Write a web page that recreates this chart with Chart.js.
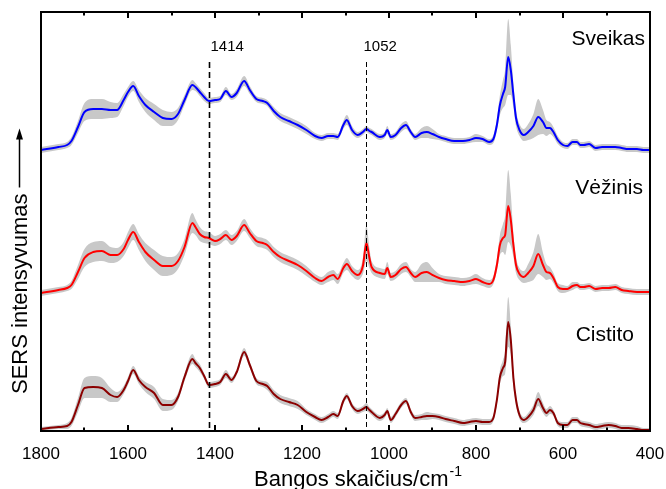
<!DOCTYPE html>
<html>
<head>
<meta charset="utf-8">
<script src="https://cdn.jsdelivr.net/npm/chart.js@4.4.1/dist/chart.umd.min.js"></script>
<style>
  html, body { margin: 0; padding: 0; background: #ffffff; }
  #wrap { width: 666px; height: 489px; }
</style>
</head>
<body>
<div id="wrap"><canvas id="c" width="666" height="489"></canvas></div>
<script>
// Raman shift grid (cm-1), shared by all three mean spectra
const wavenumbers = [
  1800,1760,1740,1730,1715,1700,1680,1660,1640,1625,1610,1600,
  1588,1575,1560,1540,1520,1500,1485,1470,1452,1445,1435,1425,
  1414,1400,1388,1375,1362,1350,1333,1320,1305,1290,1280,1265,
  1250,1230,1210,1190,1170,1155,1140,1128,1118,1105,1097,1085,
  1072,1060,1052,1045,1040,1021,1010,1004,996,985,972,961,
  950,940,925,913,900,885,870,850,830,815,800,785,
  770,760,752,745,738,733,726,720,714,708,700,690,
  680,668,657,646,638,630,622,612,600,590,578,568,
  560,552,540,525,510,495,480,465,450,430,415,400
];

// Mean SERS intensity (stacked, arbitrary units) and standard deviation
const sveikas = [
  281,284,286,290,304,319,322,322,321,321,331,339,
  345,335,326,319,313,312,317,331,346,344,339,334,
  330,331,332,340,334,338,350,341,332,330,328,320,
  314,310,306,301,295,293,295,295,294,306,311,301,
  296,299,302,300,299,294,296,301,294,296,303,306,
  299,294,298,299,297,294,292,290,290,291,293,292,
  289,292,306,326,337,344,374,361,336,313,301,296,
  299,305,314,309,303,303,299,291,286,285,289,289,
  286,286,287,283,284,284,284,283,282,282,281,281
];
const sveikasSd = [
  3,3,3,4,6,9,10,10,8,7,6,5,
  5,6,7,8,8,7,6,5,5,4,4,4,
  3,3,3,4,3,4,5,4,3,3,3,4,
  4,4,4,4,3,3,3,3,3,4,5,4,
  3,3,3,3,3,3,3,4,3,3,4,4,
  3,3,5,6,5,3,3,3,3,3,4,3,
  3,4,6,10,14,18,38,25,12,8,6,6,
  8,12,18,12,8,6,5,4,3,3,3,3,
  3,3,3,3,3,3,3,3,3,3,3,3
];

const vezinis = [
  138,141,143,146,159,173,179,180,176,176,182,191,
  199,189,179,171,165,165,170,184,208,204,197,194,
  193,190,192,196,191,195,206,198,190,188,186,179,
  174,170,166,160,153,150,154,156,152,163,167,160,
  156,165,188,173,164,158,157,163,154,156,162,164,
  158,154,158,159,156,153,151,150,149,150,152,149,
  147,151,166,186,193,196,225,211,186,166,157,154,
  158,165,177,166,159,158,153,144,142,142,145,146,
  144,144,145,142,143,143,144,141,140,139,139,139
];
const vezinisSd = [
  3,3,3,4,7,9,10,10,8,7,7,8,
  8,8,9,10,10,9,8,8,10,8,7,6,
  6,5,5,5,5,5,6,5,5,5,5,5,
  5,5,5,5,4,4,5,5,5,5,6,5,
  5,8,18,10,6,5,5,6,4,4,5,5,
  4,5,9,10,7,4,4,4,4,4,5,4,
  4,4,6,10,14,20,36,26,12,8,6,6,
  9,14,20,12,8,6,5,4,4,3,4,3,
  3,3,3,3,3,3,3,3,3,3,3,3
];

const cistito = [
  2,4,5,9,26,43,44,43,36,34,41,50,
  61,51,44,38,26,26,34,54,72,68,63,55,
  46,47,49,57,51,59,79,66,50,47,45,37,
  32,29,26,19,14,11,14,17,15,30,35,25,
  20,22,24,21,19,13,16,20,11,17,26,30,
  19,13,14,15,15,14,12,10,8,9,10,9,
  9,13,31,54,63,69,109,91,53,31,16,11,
  14,21,32,23,18,21,18,8,6,6,11,11,
  8,7,6,4,5,6,5,3,3,2,1,1
];
const cistitoSd = [
  2,2,3,4,7,10,11,10,7,5,4,4,
  4,4,5,6,6,5,4,4,5,4,4,3,
  3,3,3,4,3,3,4,3,3,3,4,4,
  4,4,4,3,3,3,3,3,3,3,3,3,
  3,3,4,3,3,3,3,3,3,3,3,3,
  3,3,3,4,3,3,3,3,3,3,3,3,
  3,3,5,7,8,12,25,15,8,5,4,3,
  4,5,7,5,4,4,3,3,3,3,3,3,
  3,3,3,3,3,3,3,3,3,3,2,2
];

const seriesNames = ['Sveikas', 'Vėžinis', 'Cistito'];
const seriesColors = ['#0000ff', '#ff0000', '#8b0000'];
const majorTicks = [1800, 1600, 1400, 1200, 1000, 800, 600, 400];
const minorTicks = [1700, 1500, 1300, 1100, 900, 700, 500];
const markerLines = [1414, 1052];

const FONT = '"Liberation Sans", Arial, Helvetica, sans-serif';
const BAND = '#c8c8c8';

function toPoints(vals, sds, sign) {
  return wavenumbers.map((w, i) => ({ x: w, y: vals[i] + sign * (sds ? sds[i] : 0) }));
}

const spectra = [
  { name: seriesNames[0], mean: sveikas, sd: sveikasSd, color: seriesColors[0] },
  { name: seriesNames[1], mean: vezinis, sd: vezinisSd, color: seriesColors[1] },
  { name: seriesNames[2], mean: cistito, sd: cistitoSd, color: seriesColors[2] }
];

const datasets = [];
// mean lines on top
spectra.forEach(s => {
  datasets.push({
    label: s.name,
    data: toPoints(s.mean, null, 0),
    borderColor: s.color,
    borderWidth: 2,
    pointRadius: 0,
    fill: false,
    cubicInterpolationMode: 'monotone',
    order: 0
  });
});
// ±SD bands underneath
spectra.forEach(s => {
  const upperIndex = datasets.length;
  datasets.push({
    label: s.name + ' +SD',
    data: toPoints(s.mean, s.sd, 1),
    borderWidth: 0,
    borderColor: 'rgba(0,0,0,0)',
    backgroundColor: BAND,
    pointRadius: 0,
    fill: upperIndex + 1,
    cubicInterpolationMode: 'monotone',
    order: 1
  });
  datasets.push({
    label: s.name + ' -SD',
    data: toPoints(s.mean, s.sd, -1),
    borderWidth: 0,
    borderColor: 'rgba(0,0,0,0)',
    backgroundColor: BAND,
    pointRadius: 0,
    fill: false,
    cubicInterpolationMode: 'monotone',
    order: 1
  });
});

const decorations = {
  id: 'decorations',
  afterDraw(chart) {
    const { ctx, chartArea: a, scales: { x } } = chart;
    ctx.save();

    // marker lines with their labels
    markerLines.forEach((m, i) => {
      const px = Math.round(x.getPixelForValue(m)) + 0.5;
      ctx.beginPath();
      ctx.strokeStyle = '#000';
      ctx.lineWidth = i === 0 ? 1.6 : 1;
      ctx.setLineDash(i === 0 ? [6, 4] : [5, 3]);
      ctx.moveTo(px, a.top + 50);
      ctx.lineTo(px, a.bottom);
      ctx.stroke();
      ctx.setLineDash([]);
      ctx.fillStyle = '#000';
      ctx.font = '15px ' + FONT;
      ctx.textAlign = 'left';
      ctx.textBaseline = 'middle';
      ctx.fillText(String(m), px + (i === 0 ? 1 : -3), a.top + 35);
    });

    // inward tick marks on bottom and top edges
    ctx.strokeStyle = '#000';
    ctx.lineWidth = 2;
    const drawTick = (v, len) => {
      const px = Math.round(x.getPixelForValue(v));
      ctx.beginPath();
      ctx.moveTo(px, a.bottom);
      ctx.lineTo(px, a.bottom - len);
      ctx.moveTo(px, a.top);
      ctx.lineTo(px, a.top + len);
      ctx.stroke();
    };
    majorTicks.forEach(v => drawTick(v, 6));
    minorTicks.forEach(v => drawTick(v, 3.5));

    // frame
    ctx.lineWidth = 2;
    ctx.strokeRect(a.left, a.top, a.right - a.left, a.bottom - a.top);

    // spectrum names
    ctx.fillStyle = '#000';
    ctx.font = '21px ' + FONT;
    ctx.textAlign = 'right';
    ctx.textBaseline = 'middle';
    ctx.fillText(seriesNames[0], a.right - 5, a.top + 27);
    ctx.fillText(seriesNames[1], a.right - 7, a.top + 176);
    ctx.fillText(seriesNames[2], a.right - 16, a.top + 323);

    // x axis title with superscript
    const main = 'Bangos skaičius/cm';
    const sup = '-1';
    ctx.font = '22px ' + FONT;
    const wMain = ctx.measureText(main).width;
    ctx.font = '14px ' + FONT;
    const wSup = ctx.measureText(sup).width;
    const cx = (a.left + a.right) / 2 + 12;
    const startX = cx - (wMain + wSup) / 2;
    ctx.textAlign = 'left';
    ctx.textBaseline = 'alphabetic';
    ctx.font = '22px ' + FONT;
    ctx.fillText(main, startX, 486);
    ctx.font = '14px ' + FONT;
    ctx.fillText(sup, startX + wMain + 1, 476);

    // y axis title with arrow
    ctx.translate(27, 394);
    ctx.rotate(-Math.PI / 2);
    ctx.font = '22px ' + FONT;
    ctx.textAlign = 'left';
    ctx.textBaseline = 'alphabetic';
    const yTitle = 'SERS intensyvumas';
    ctx.fillText(yTitle, 0, 0);
    const tw = ctx.measureText(yTitle).width;
    ctx.lineWidth = 1.5;
    ctx.beginPath();
    ctx.moveTo(tw + 6, -7.5);
    ctx.lineTo(tw + 58, -7.5);
    ctx.stroke();
    ctx.beginPath();
    ctx.moveTo(tw + 65, -7.5);
    ctx.lineTo(tw + 54, -11);
    ctx.lineTo(tw + 54, -4);
    ctx.closePath();
    ctx.fill();

    ctx.restore();
  }
};

new Chart(document.getElementById('c'), {
  type: 'line',
  data: { datasets },
  options: {
    responsive: false,
    animation: false,
    events: [],
    layout: { padding: { left: 41, right: 16, top: 12, bottom: 0 } },
    plugins: { legend: { display: false }, tooltip: { enabled: false } },
    scales: {
      x: {
        type: 'linear',
        reverse: true,
        min: 400,
        max: 1800,
        afterFit(scale) {
          scale.height = 58;
          scale.paddingLeft = 0;
          scale.paddingRight = 0;
        },
        grid: { display: false, drawTicks: false },
        border: { display: false },
        ticks: {
          stepSize: 200,
          padding: 13,
          maxRotation: 0,
          color: '#000',
          font: { family: FONT, size: 17 },
          callback: v => String(v)
        }
      },
      y: {
        type: 'linear',
        display: false,
        min: 0,
        max: 419
      }
    }
  },
  plugins: [decorations]
});
</script>
</body>
</html>
